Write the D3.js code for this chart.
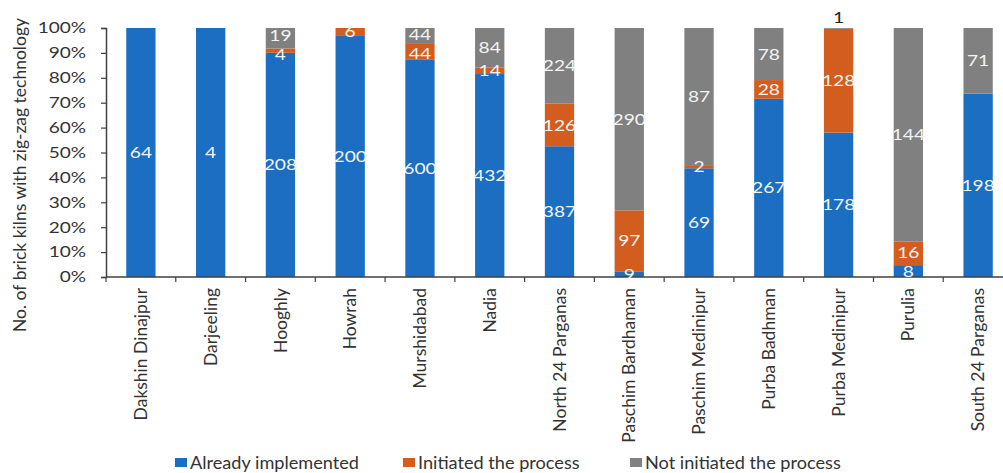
<!DOCTYPE html>
<html>
<head>
<meta charset="utf-8">
<script src="https://cdn.jsdelivr.net/npm/d3@7"></script>
<style>
  html, body { margin: 0; padding: 0; background: #ffffff; }
  svg { display: block; font-family: Lato, "Open Sans", sans-serif; }
</style>
</head>
<body>
<svg id="chart" width="1003" height="473"></svg>
<script>
// Districts of West Bengal and the number of brick kilns in each adoption stage
const districts = [
  "Dakshin Dinajpur", "Darjeeling", "Hooghly", "Howrah", "Murshidabad", "Nadia",
  "North 24 Parganas", "Paschim Bardhaman", "Paschim Medinipur", "Purba Badhman",
  "Purba Medinipur", "Purulia", "South 24 Parganas"
];
const alreadyImplemented = [64, 4, 208, 200, 600, 432, 387, 9, 69, 267, 178, 8, 198];
const initiatedProcess   = [0, 0, 4, 6, 44, 14, 126, 97, 2, 28, 128, 16, 0];
const notInitiated       = [0, 0, 19, 0, 44, 84, 224, 290, 87, 78, 1, 144, 71];

const seriesNames = ["Already implemented", "Initiated the process", "Not initiated the process"];
const seriesColors = ["#1b6ec2", "#d35d1e", "#808080"];
const yTicks = [0, 0.1, 0.2, 0.3, 0.4, 0.5, 0.6, 0.7, 0.8, 0.9, 1];

const svg = d3.select("#chart");

// rows for the stack layout: counts converted to shares of each district total
const keys = ["a", "b", "c"];
const rows = districts.map((d, i) => {
  const tot = alreadyImplemented[i] + initiatedProcess[i] + notInitiated[i];
  return {
    district: d,
    a: alreadyImplemented[i] / tot,
    b: initiatedProcess[i] / tot,
    c: notInitiated[i] / tot,
    raw: [alreadyImplemented[i], initiatedProcess[i], notInitiated[i]]
  };
});
const stacked = d3.stack().keys(keys)(rows);

const x = d3.scaleBand().domain(districts).range([106, 1013]).paddingInner(0.58).paddingOuter(0.29);
const y = d3.scaleLinear().domain([0, 1]).range([277, 28]);

// bars
const layers = svg.append("g").selectAll("g")
  .data(stacked)
  .join("g")
  .attr("fill", (d, i) => seriesColors[i]);

layers.selectAll("rect")
  .data(d => d)
  .join("rect")
  .attr("x", d => x(d.data.district))
  .attr("width", x.bandwidth())
  .attr("y", d => y(d[1]))
  .attr("height", d => y(d[0]) - y(d[1]));

// y axis
const yAxis = svg.append("g")
  .attr("transform", "translate(106,0)")
  .call(d3.axisLeft(y).tickValues(yTicks).tickFormat(d3.format(".0%")).tickSize(5).tickPadding(15));
yAxis.select(".domain").attr("stroke", "#404040").attr("stroke-width", 1.5);
yAxis.selectAll(".tick line").attr("stroke", "#404040").attr("stroke-width", 1.2);
yAxis.selectAll(".tick text")
  .attr("font-size", 15)
  .attr("fill", "#333")
  .attr("font-family", "Lato")
  .each(function () {
    const t = d3.select(this);
    const xx = +t.attr("x");
    t.attr("x", null).attr("transform", `translate(${xx},0) scale(1.27,1)`);
  });

// x axis with ticks between the categories
const xAxisG = svg.append("g").attr("transform", "translate(0,277)");
xAxisG.append("line")
  .attr("x1", 106).attr("x2", 1003).attr("y1", 0).attr("y2", 0)
  .attr("stroke", "#404040").attr("stroke-width", 1.5);
const step = x.step();
const boundaries = districts.map(d => x(d) - (step - x.bandwidth()) / 2);
xAxisG.selectAll("line.tk")
  .data(boundaries)
  .join("line")
  .attr("class", "tk")
  .attr("x1", d => d).attr("x2", d => d)
  .attr("y1", 0).attr("y2", 5)
  .attr("stroke", "#404040").attr("stroke-width", 1.2);
xAxisG.selectAll("text")
  .data(districts)
  .join("text")
  .attr("transform", d => `translate(${x(d) + x.bandwidth() / 2},11) rotate(-90)`)
  .attr("text-anchor", "end")
  .attr("dy", "0.35em")
  .attr("font-size", 17.5)
  .attr("fill", "#333")
  .text(d => d);

// y axis title
svg.append("text")
  .attr("transform", "translate(20,175) rotate(-90)")
  .attr("text-anchor", "middle")
  .attr("dy", "0.35em")
  .attr("font-size", 17.5)
  .attr("fill", "#333")
  .text("No. of brick kilns with zig-zag technology");

// value labels, centred in each segment; very thin segments get theirs above the bar.
// Labels in the same bar that would collide are spread apart vertically.
const labelSize = 16;
const minGap = 19;
const labelG = svg.append("g");
districts.forEach((district, ci) => {
  const cx = x(district) + x.bandwidth() / 2;
  const inside = [];
  stacked.forEach((layer, si) => {
    const seg = layer[ci];
    const v = seg.data.raw[si];
    if (!v) return;
    const share = seg[1] - seg[0];
    if (share < 0.01) {
      labelG.append("text")
        .attr("transform", `translate(${cx},${y(seg[1]) - 11}) scale(1.2,1)`)
        .attr("text-anchor", "middle")
        .attr("dy", "0.35em")
        .attr("font-size", labelSize)
        .attr("fill", "#222")
        .text(v);
    } else {
      inside.push({ v, cy: (y(seg[0]) + y(seg[1])) / 2 });
    }
  });
  // inside labels run bottom to top, so cy decreases along the list
  for (let iter = 0; iter < 10; iter++) {
    for (let k = 1; k < inside.length; k++) {
      const gap = inside[k - 1].cy - inside[k].cy;
      if (gap < minGap) {
        const push = (minGap - gap) / 2;
        inside[k - 1].cy += push;
        inside[k].cy -= push;
      }
    }
  }
  inside.forEach(l => {
    labelG.append("text")
      .attr("transform", `translate(${cx},${l.cy}) scale(1.2,1)`)
      .attr("text-anchor", "middle")
      .attr("dy", "0.35em")
      .attr("font-size", labelSize)
      .attr("fill", "#f4f4f4")
      .text(l.v);
  });
});

// legend
const legendX = [175, 403, 630];
const legend = svg.append("g");
seriesNames.forEach((name, i) => {
  legend.append("rect")
    .attr("x", legendX[i]).attr("y", 458)
    .attr("width", 12).attr("height", 9)
    .attr("fill", seriesColors[i]);
  legend.append("text")
    .attr("transform", `translate(${legendX[i] + 15},469) scale(1.1,1)`)
    .attr("font-size", 16.5)
    .attr("fill", "#333")
    .text(name);
});
</script>
</body>
</html>
